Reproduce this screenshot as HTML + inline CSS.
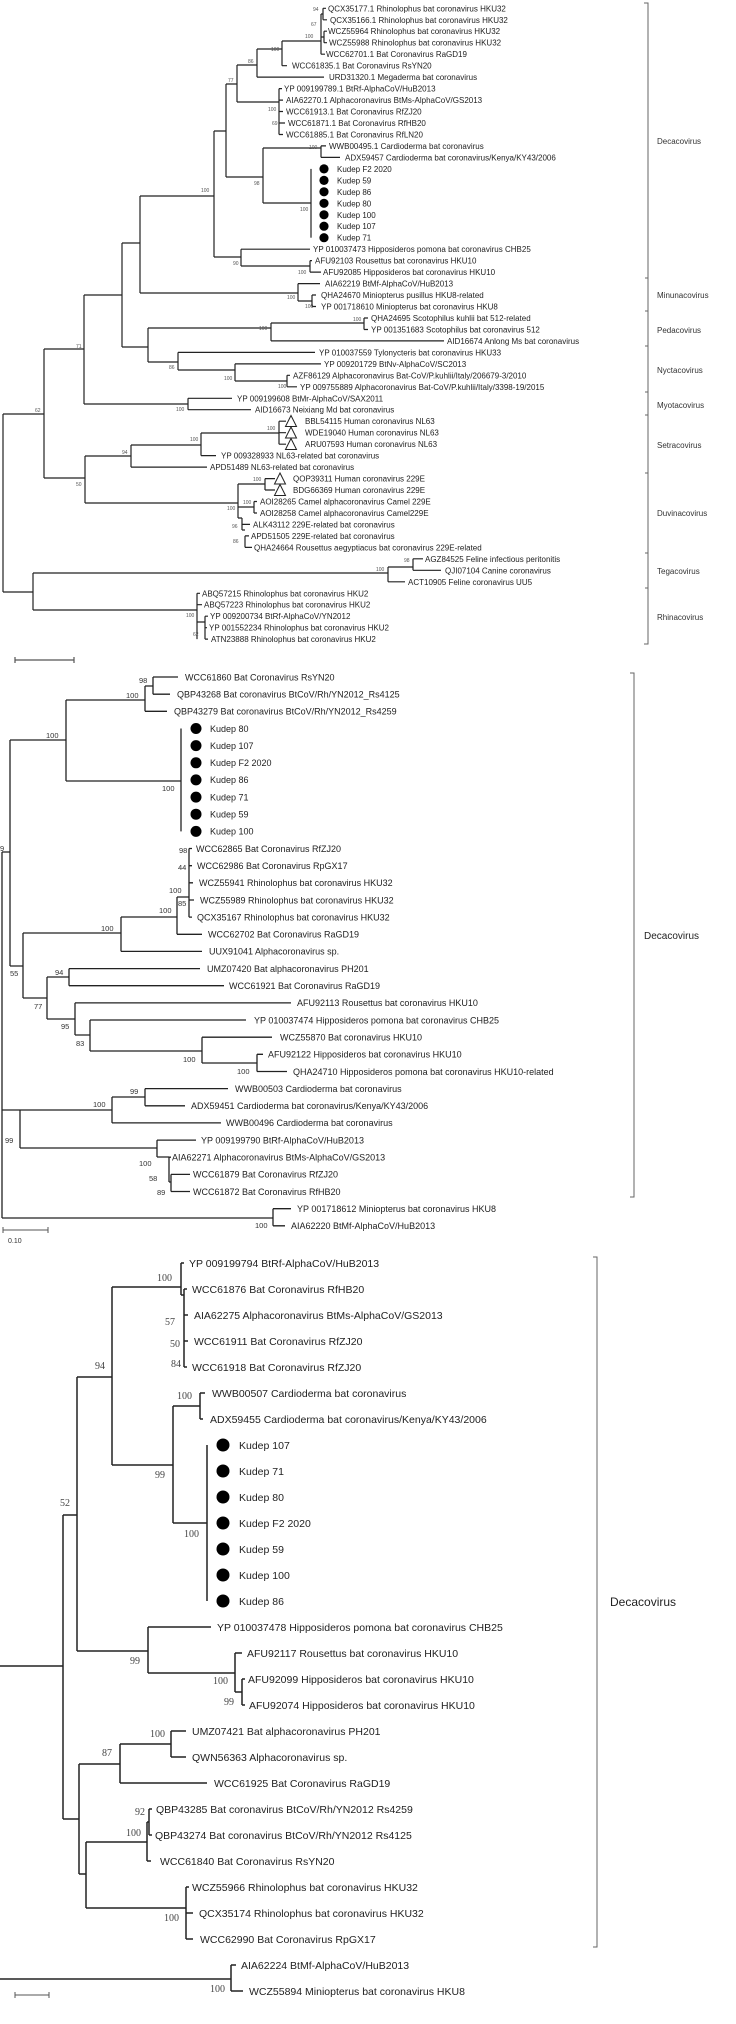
<!DOCTYPE html>
<html><head><meta charset="utf-8"><style>
html,body{margin:0;padding:0;background:#fff;}
svg{display:block;font-family:"Liberation Sans",Arial,sans-serif;}
.t1{font-size:8px;fill:#222}
.t2{font-size:9px;fill:#222}
.t3{font-size:10.5px;fill:#222}
.s1{font-size:5px;fill:#555}
.s2{font-size:7.5px;fill:#333}
.s3{font-size:10px;fill:#444;font-family:"Liberation Serif",serif}
.g{font-size:8px;fill:#333}
</style></head><body>
<svg width="736" height="2024" viewBox="0 0 736 2024" xmlns="http://www.w3.org/2000/svg">
<!-- PANEL 1 -->
<g fill="none" stroke="#222" stroke-width="1.2">
<path d="M3 414V592M3 414H44M3 592H33"/>
<path d="M44 349V478M44 349H84M44 478H85"/>
<path d="M84 295V404M84 295H122M84 404H188"/>
<path d="M122 243V347M122 243H140M122 347H148"/>
<path d="M140 196V293M140 196H214M140 293H298"/>
<path d="M214 131V257M214 131H226M214 257H241"/>
<path d="M226 84V177M226 84H237M226 177H263"/>
<path d="M237 65V102M237 65H257M237 102H279"/>
<path d="M257 49V77.1M257 49H282M257 77.1H324"/>
<path d="M282 41V65.7M282 41H321M282 65.7H287"/>
<path d="M321 14V54.2M321 14H323M323 8.3V19.8M323 8.3H326M323 19.8H327M321 37H324M324 31.2V42.7M324 31.2H327M324 42.7H327M321 54.2H325"/>
<path d="M279 88.6V134.5M279 88.6H282M279 100.1H283M279 111.5H283M279 123H285M279 134.5H283"/>
<path d="M263 148V203M263 148H321M263 203H311"/>
<path d="M321 145.9V157.4M321 145.9H326M321 157.4H340"/>
<path d="M311 168.9V237.7"/>
<path d="M241 249.2V266M241 249.2H310M241 266H310M310 260.6V272.1M310 260.6H312M310 272.1H321"/>
<path d="M298 283.6V301M298 283.6H320M298 301H312M312 295V306.5M312 295H316M312 306.5H316"/>
<path d="M148 328V362M148 328H271M148 362H178"/>
<path d="M271 323V340.9M271 323H364M271 340.9H444M364 318V329.5M364 318H368M364 329.5H368"/>
<path d="M178 352.4V370M178 352.4H315M178 370H235M235 363.9V381M235 363.9H321M235 381H287M287 375.3V386.8M287 375.3H290M287 386.8H297"/>
<path d="M188 398.3V409.7M188 398.3H232M188 409.7H251"/>
<path d="M85 456V503M85 456H131M85 503H238"/>
<path d="M131 445V467.1M131 445H201M131 467.1H207"/>
<path d="M201 433V455.6M201 433H279M201 455.6H216M279 421.2V444.2M279 421.2H286M279 432.7H286M279 444.2H286"/>
<path d="M238 484V518M238 484H265M265 478.6V490M265 478.6H275M265 490H275M238 507H254M254 501.5V513M254 501.5H257M254 513H257M238 518H242M242 518V530M242 524.4H250M242 530H245M245 535.9V547.4M245 535.9H249M245 547.4H252"/>
<path d="M33 573V610M33 573H388M33 610H197"/>
<path d="M388 567V581.8M388 567H413M388 581.8H405M413 558.8V570.3M413 558.8H423M413 570.3H441"/>
<path d="M197 593.3V639.1M197 593.3H200M197 604.7H202M197 622H205M205 616.2V639.1M205 616.2H208M205 627.7H207M205 639.1H208"/>
<path d="M15 660H74M15 657V663M74 657V663" stroke="#555"/>
<path d="M644 3H648V644H644M645 278H648M645 311H648M645 346H648M645 392H648M645 415H648M645 473H648M645 553H648M645 588H648" stroke="#666" stroke-width="1"/>
</g>
<g fill="#000">
<circle cx="324" cy="168.9" r="4.6"/><circle cx="324" cy="180.4" r="4.6"/><circle cx="324" cy="191.8" r="4.6"/><circle cx="324" cy="203.3" r="4.6"/><circle cx="324" cy="214.8" r="4.6"/><circle cx="324" cy="226.2" r="4.6"/><circle cx="324" cy="237.7" r="4.6"/>
</g>
<g fill="#fff" stroke="#222" stroke-width="1">
<path d="M291 415.5L296.5 426.5H285.5Z"/><path d="M291 427L296.5 438H285.5Z"/><path d="M291 438.5L296.5 449.5H285.5Z"/>
<path d="M280 473L285.5 484H274.5Z"/><path d="M280 484.5L285.5 495.5H274.5Z"/>
</g>
<g class="t1">
<text x="328" y="11.3">QCX35177.1 Rhinolophus bat coronavirus HKU32</text>
<text x="330" y="22.8">QCX35166.1 Rhinolophus bat coronavirus HKU32</text>
<text x="328" y="34.2">WCZ55964 Rhinolophus bat coronavirus HKU32</text>
<text x="329" y="45.7">WCZ55988 Rhinolophus bat coronavirus HKU32</text>
<text x="326" y="57.2">WCC62701.1 Bat Coronavirus RaGD19</text>
<text x="292" y="68.7">WCC61835.1 Bat Coronavirus RsYN20</text>
<text x="329" y="80.1">URD31320.1 Megaderma bat coronavirus</text>
<text x="284" y="91.6">YP 009199789.1 BtRf-AlphaCoV/HuB2013</text>
<text x="286" y="103.1">AIA62270.1 Alphacoronavirus BtMs-AlphaCoV/GS2013</text>
<text x="286" y="114.5">WCC61913.1 Bat Coronavirus RfZJ20</text>
<text x="288" y="126">WCC61871.1 Bat Coronavirus RfHB20</text>
<text x="286" y="137.5">WCC61885.1 Bat Coronavirus RfLN20</text>
<text x="329" y="148.9">WWB00495.1 Cardioderma bat coronavirus</text>
<text x="345" y="160.4">ADX59457 Cardioderma bat coronavirus/Kenya/KY43/2006</text>
<text x="337" y="171.9">Kudep F2 2020</text>
<text x="337" y="183.4">Kudep 59</text>
<text x="337" y="194.8">Kudep 86</text>
<text x="337" y="206.3">Kudep 80</text>
<text x="337" y="217.8">Kudep 100</text>
<text x="337" y="229.2">Kudep 107</text>
<text x="337" y="240.7">Kudep 71</text>
<text x="313" y="252.2">YP 010037473 Hipposideros pomona bat coronavirus CHB25</text>
<text x="315" y="263.6">AFU92103 Rousettus bat coronavirus HKU10</text>
<text x="323" y="275.1">AFU92085 Hipposideros bat coronavirus HKU10</text>
<text x="325" y="286.6">AIA62219 BtMf-AlphaCoV/HuB2013</text>
<text x="321" y="298">QHA24670 Miniopterus pusillus HKU8-related</text>
<text x="321" y="309.5">YP 001718610 Miniopterus bat coronavirus HKU8</text>
<text x="371" y="321">QHA24695 Scotophilus kuhlii bat 512-related</text>
<text x="371" y="332.5">YP 001351683 Scotophilus bat coronavirus 512</text>
<text x="447" y="343.9">AID16674 Anlong Ms bat coronavirus</text>
<text x="319" y="355.4">YP 010037559 Tylonycteris bat coronavirus HKU33</text>
<text x="324" y="366.9">YP 009201729 BtNv-AlphaCoV/SC2013</text>
<text x="293" y="378.3">AZF86129 Alphacoronavirus Bat-CoV/P.kuhlii/Italy/206679-3/2010</text>
<text x="300" y="389.8">YP 009755889 Alphacoronavirus Bat-CoV/P.kuhlii/Italy/3398-19/2015</text>
<text x="237" y="401.3">YP 009199608 BtMr-AlphaCoV/SAX2011</text>
<text x="255" y="412.7">AID16673 Neixiang Md bat coronavirus</text>
<text x="305" y="424.2">BBL54115 Human coronavirus NL63</text>
<text x="305" y="435.7">WDE19040 Human coronavirus NL63</text>
<text x="305" y="447.2">ARU07593 Human coronavirus NL63</text>
<text x="221" y="458.6">YP 009328933 NL63-related bat coronavirus</text>
<text x="210" y="470.1">APD51489 NL63-related bat coronavirus</text>
<text x="293" y="481.6">QOP39311 Human coronavirus 229E</text>
<text x="293" y="493">BDG66369 Human coronavirus 229E</text>
<text x="260" y="504.5">AOI28265 Camel alphacoronavirus Camel 229E</text>
<text x="260" y="516">AOI28258 Camel alphacoronavirus Camel229E</text>
<text x="253" y="527.4">ALK43112 229E-related bat coronavirus</text>
<text x="251" y="538.9">APD51505 229E-related bat coronavirus</text>
<text x="254" y="550.4">QHA24664 Rousettus aegyptiacus bat coronavirus 229E-related</text>
<text x="425" y="561.8">AGZ84525 Feline infectious peritonitis</text>
<text x="445" y="573.3">QJI07104 Canine coronavirus</text>
<text x="408" y="584.8">ACT10905 Feline coronavirus UU5</text>
<text x="202" y="596.3">ABQ57215 Rhinolophus bat coronavirus HKU2</text>
<text x="204" y="607.7">ABQ57223 Rhinolophus bat coronavirus HKU2</text>
<text x="210" y="619.2">YP 009200734 BtRf-AlphaCoV/YN2012</text>
<text x="209" y="630.7">YP 001552234 Rhinolophus bat coronavirus HKU2</text>
<text x="211" y="642.1">ATN23888 Rhinolophus bat coronavirus HKU2</text>
</g>
<g class="g">
<text x="657" y="144">Decacovirus</text>
<text x="657" y="298">Minunacovirus</text>
<text x="657" y="333">Pedacovirus</text>
<text x="657" y="373">Nyctacovirus</text>
<text x="657" y="408">Myotacovirus</text>
<text x="657" y="448">Setracovirus</text>
<text x="657" y="516">Duvinacovirus</text>
<text x="657" y="574">Tegacovirus</text>
<text x="657" y="620">Rhinacovirus</text>
</g>
<g class="s1">
<text x="313" y="11">94</text><text x="311" y="26">67</text><text x="305" y="38">100</text><text x="271" y="51">100</text><text x="248" y="63">86</text><text x="228" y="82">77</text><text x="268" y="111">100</text><text x="272" y="125">69</text><text x="309" y="149">100</text><text x="254" y="185">98</text><text x="300" y="211">100</text><text x="201" y="192">100</text><text x="233" y="265">90</text><text x="298" y="274">100</text><text x="287" y="299">100</text><text x="305" y="308">100</text><text x="353" y="321">100</text><text x="259" y="330">100</text><text x="169" y="369">86</text><text x="224" y="380">100</text><text x="278" y="388">100</text><text x="176" y="411">100</text><text x="76" y="348">71</text><text x="35" y="412">62</text><text x="267" y="430">100</text><text x="190" y="441">100</text><text x="122" y="454">94</text><text x="76" y="486">50</text><text x="253" y="481">100</text><text x="243" y="504">100</text><text x="227" y="510">100</text><text x="232" y="528">96</text><text x="233" y="543">86</text><text x="404" y="562">98</text><text x="376" y="571">100</text><text x="186" y="617">100</text><text x="193" y="636">62</text>
</g>

<!-- PANEL 2 -->
<g fill="none" stroke="#222" stroke-width="1.3">
<path d="M2 852V1218M2 852H10M2 1110H20M2 1218H273"/>
<path d="M10 740V966M10 740H66M10 966H23"/>
<path d="M66 700V781M66 700H145M66 781H181"/>
<path d="M145 686V711.3M145 686H153M145 711.3H167M153 677V694.2M153 677H178M153 694.2H170"/>
<path d="M181 728.5V831.4"/>
<path d="M23 933V998M23 933H121M23 998H47"/>
<path d="M121 917V951.4M121 917H177M121 951.4H202"/>
<path d="M177 897V934.3M177 897H189M177 934.3H202"/>
<path d="M189 848.5V917.1M189 848.5H192M189 865.7H192M189 882.8H193M189 900H194M189 917.1H192"/>
<path d="M47 977V1019M47 977H69M47 1019H75"/>
<path d="M69 968.6V985.7M69 968.6H200M69 985.7H224"/>
<path d="M75 1002.9V1035M75 1002.9H291M75 1035H90"/>
<path d="M90 1020V1051M90 1020H246M90 1051H202"/>
<path d="M202 1037.2V1063M202 1037.2H272M202 1063H257M257 1054.3V1071.5M257 1054.3H263M257 1071.5H287"/>
<path d="M20 1110V1148M20 1148H157"/>
<path d="M112 1097V1122.9M20 1110H112M112 1097H145M112 1122.9H221"/>
<path d="M145 1088.6V1105.8M145 1088.6H228M145 1105.8H185"/>
<path d="M157 1140.1V1157M157 1140.1H196M157 1157H169M169 1157V1182M169 1157.2H171M169 1182H171M171 1174.4V1191.5M171 1174.4H190M171 1191.5H190"/>
<path d="M273 1208.7V1225.8M273 1208.7H291M273 1225.8H285"/>
<path d="M3 1230H48M3 1227V1233M48 1227V1233" stroke="#555" stroke-width="1"/>
<path d="M630 673H634V1197H630" stroke="#666" stroke-width="1"/>
</g>
<g fill="#000">
<circle cx="196" cy="728.5" r="5.5"/><circle cx="196" cy="745.6" r="5.5"/><circle cx="196" cy="762.8" r="5.5"/><circle cx="196" cy="779.9" r="5.5"/><circle cx="196" cy="797.1" r="5.5"/><circle cx="196" cy="814.2" r="5.5"/><circle cx="196" cy="831.4" r="5.5"/>
</g>
<g class="t2">
<text x="185" y="680.3">WCC61860 Bat Coronavirus RsYN20</text>
<text x="177" y="697.4">QBP43268 Bat coronavirus BtCoV/Rh/YN2012_Rs4125</text>
<text x="174" y="714.6">QBP43279 Bat coronavirus BtCoV/Rh/YN2012_Rs4259</text>
<text x="210" y="731.8">Kudep 80</text>
<text x="210" y="748.9">Kudep 107</text>
<text x="210" y="766.1">Kudep F2 2020</text>
<text x="210" y="783.2">Kudep 86</text>
<text x="210" y="800.4">Kudep 71</text>
<text x="210" y="817.5">Kudep 59</text>
<text x="210" y="834.7">Kudep 100</text>
<text x="196" y="851.8">WCC62865 Bat Coronavirus RfZJ20</text>
<text x="197" y="869">WCC62986 Bat Coronavirus RpGX17</text>
<text x="199" y="886.1">WCZ55941 Rhinolophus bat coronavirus HKU32</text>
<text x="200" y="903.3">WCZ55989 Rhinolophus bat coronavirus HKU32</text>
<text x="197" y="920.4">QCX35167 Rhinolophus bat coronavirus HKU32</text>
<text x="208" y="937.6">WCC62702 Bat Coronavirus RaGD19</text>
<text x="209" y="954.7">UUX91041 Alphacoronavirus sp.</text>
<text x="207" y="971.9">UMZ07420 Bat alphacoronavirus PH201</text>
<text x="229" y="989">WCC61921 Bat Coronavirus RaGD19</text>
<text x="297" y="1006.2">AFU92113 Rousettus bat coronavirus HKU10</text>
<text x="254" y="1023.3">YP 010037474 Hipposideros pomona bat coronavirus CHB25</text>
<text x="280" y="1040.5">WCZ55870 Bat coronavirus HKU10</text>
<text x="268" y="1057.6">AFU92122 Hipposideros bat coronavirus HKU10</text>
<text x="293" y="1074.8">QHA24710 Hipposideros pomona bat coronavirus HKU10-related</text>
<text x="235" y="1091.9">WWB00503 Cardioderma bat coronavirus</text>
<text x="191" y="1109.1">ADX59451 Cardioderma bat coronavirus/Kenya/KY43/2006</text>
<text x="226" y="1126.2">WWB00496 Cardioderma bat coronavirus</text>
<text x="201" y="1143.4">YP 009199790 BtRf-AlphaCoV/HuB2013</text>
<text x="172" y="1160.5">AIA62271 Alphacoronavirus BtMs-AlphaCoV/GS2013</text>
<text x="193" y="1177.7">WCC61879 Bat Coronavirus RfZJ20</text>
<text x="193" y="1194.8">WCC61872 Bat Coronavirus RfHB20</text>
<text x="297" y="1212">YP 001718612 Miniopterus bat coronavirus HKU8</text>
<text x="291" y="1229.1">AIA62220 BtMf-AlphaCoV/HuB2013</text>
</g>
<text x="8" y="1243" style="font-size:7px;fill:#333">0.10</text>
<text x="644" y="939" style="font-size:10px;fill:#222">Decacovirus</text>
<g class="s2">
<text x="139" y="683">98</text><text x="126" y="698">100</text><text x="46" y="738">100</text><text x="162" y="791">100</text><text x="0" y="851">9</text><text x="179" y="853">98</text><text x="178" y="870">44</text><text x="169" y="893">100</text><text x="178" y="906">85</text><text x="159" y="913">100</text><text x="101" y="931">100</text><text x="10" y="976">55</text><text x="55" y="975">94</text><text x="34" y="1009">77</text><text x="61" y="1029">95</text><text x="76" y="1046">83</text><text x="183" y="1062">100</text><text x="237" y="1074">100</text><text x="130" y="1094">99</text><text x="93" y="1107">100</text><text x="5" y="1143">99</text><text x="139" y="1166">100</text><text x="149" y="1181">58</text><text x="157" y="1195">89</text><text x="255" y="1228">100</text>
</g>

<!-- PANEL 3 -->
<g fill="none" stroke="#222" stroke-width="1.5">
<path d="M0 1666H63M0 1979H231"/>
<path d="M63 1515V1819M63 1515H77M63 1819H79"/>
<path d="M77 1377V1651M77 1377H112M77 1651H148"/>
<path d="M112 1287V1465M112 1287H181M112 1465H173"/>
<path d="M181 1263V1295M181 1263H184M181 1295H184M184 1289V1367M184 1289H187M184 1315H188M184 1341H188M184 1367H187"/>
<path d="M173 1406V1523M173 1406H200M173 1523H207"/>
<path d="M200 1393V1419M200 1393H205M200 1419H203"/>
<path d="M207 1445V1601"/>
<path d="M148 1627V1673M148 1627H211M148 1673H235"/>
<path d="M235 1653V1692M235 1653H242M235 1692H242M242 1679V1705M242 1679H245M242 1705H245"/>
<path d="M79 1764V1874M79 1764H120M79 1874H86"/>
<path d="M120 1744V1783M120 1744H171M120 1783H207M171 1731V1757M171 1731H186M171 1757H186"/>
<path d="M86 1842V1908M86 1842H147M86 1908H186"/>
<path d="M147 1822V1861M147 1822H149M147 1861H151M149 1809V1835M149 1809H152M149 1835H152"/>
<path d="M186 1887V1939M186 1887H189M186 1913H193M186 1939H193"/>
<path d="M231 1965V1991M231 1965H236M231 1991H243"/>
<path d="M15 1995H49M15 1992V1998M49 1992V1998" stroke="#555" stroke-width="1"/>
<path d="M593 1257H597V1947H593" stroke="#666" stroke-width="1"/>
</g>
<g fill="#000">
<circle cx="223" cy="1445" r="6.5"/><circle cx="223" cy="1471" r="6.5"/><circle cx="223" cy="1497" r="6.5"/><circle cx="223" cy="1523" r="6.5"/><circle cx="223" cy="1549" r="6.5"/><circle cx="223" cy="1575" r="6.5"/><circle cx="223" cy="1601" r="6.5"/>
</g>
<g class="t3">
<text x="189" y="1267">YP 009199794 BtRf-AlphaCoV/HuB2013</text>
<text x="192" y="1293">WCC61876 Bat Coronavirus RfHB20</text>
<text x="194" y="1319">AIA62275 Alphacoronavirus BtMs-AlphaCoV/GS2013</text>
<text x="194" y="1345">WCC61911 Bat Coronavirus RfZJ20</text>
<text x="192" y="1371">WCC61918 Bat Coronavirus RfZJ20</text>
<text x="212" y="1397">WWB00507 Cardioderma bat coronavirus</text>
<text x="210" y="1423">ADX59455 Cardioderma bat coronavirus/Kenya/KY43/2006</text>
<text x="239" y="1449">Kudep 107</text>
<text x="239" y="1475">Kudep 71</text>
<text x="239" y="1501">Kudep 80</text>
<text x="239" y="1527">Kudep F2 2020</text>
<text x="239" y="1553">Kudep 59</text>
<text x="239" y="1579">Kudep 100</text>
<text x="239" y="1605">Kudep 86</text>
<text x="217" y="1631">YP 010037478 Hipposideros pomona bat coronavirus CHB25</text>
<text x="247" y="1657">AFU92117 Rousettus bat coronavirus HKU10</text>
<text x="248" y="1683">AFU92099 Hipposideros bat coronavirus HKU10</text>
<text x="249" y="1709">AFU92074 Hipposideros bat coronavirus HKU10</text>
<text x="192" y="1735">UMZ07421 Bat alphacoronavirus PH201</text>
<text x="192" y="1761">QWN56363 Alphacoronavirus sp.</text>
<text x="214" y="1787">WCC61925 Bat Coronavirus RaGD19</text>
<text x="156" y="1813">QBP43285 Bat coronavirus BtCoV/Rh/YN2012 Rs4259</text>
<text x="155" y="1839">QBP43274 Bat coronavirus BtCoV/Rh/YN2012 Rs4125</text>
<text x="160" y="1865">WCC61840 Bat Coronavirus RsYN20</text>
<text x="192" y="1891">WCZ55966 Rhinolophus bat coronavirus HKU32</text>
<text x="199" y="1917">QCX35174 Rhinolophus bat coronavirus HKU32</text>
<text x="200" y="1943">WCC62990 Bat Coronavirus RpGX17</text>
<text x="241" y="1969">AIA62224 BtMf-AlphaCoV/HuB2013</text>
<text x="249" y="1995">WCZ55894 Miniopterus bat coronavirus HKU8</text>
</g>
<text x="610" y="1606" style="font-size:12px;fill:#222">Decacovirus</text>
<g class="s3">
<text x="157" y="1281">100</text><text x="165" y="1325">57</text><text x="170" y="1347">50</text><text x="171" y="1367">84</text><text x="95" y="1369">94</text><text x="177" y="1399">100</text><text x="155" y="1478">99</text><text x="60" y="1506">52</text><text x="184" y="1537">100</text><text x="130" y="1664">99</text><text x="213" y="1684">100</text><text x="224" y="1705">99</text><text x="150" y="1737">100</text><text x="102" y="1756">87</text><text x="135" y="1815">92</text><text x="126" y="1836">100</text><text x="164" y="1921">100</text><text x="210" y="1992">100</text>
</g>
</svg>
</body></html>
